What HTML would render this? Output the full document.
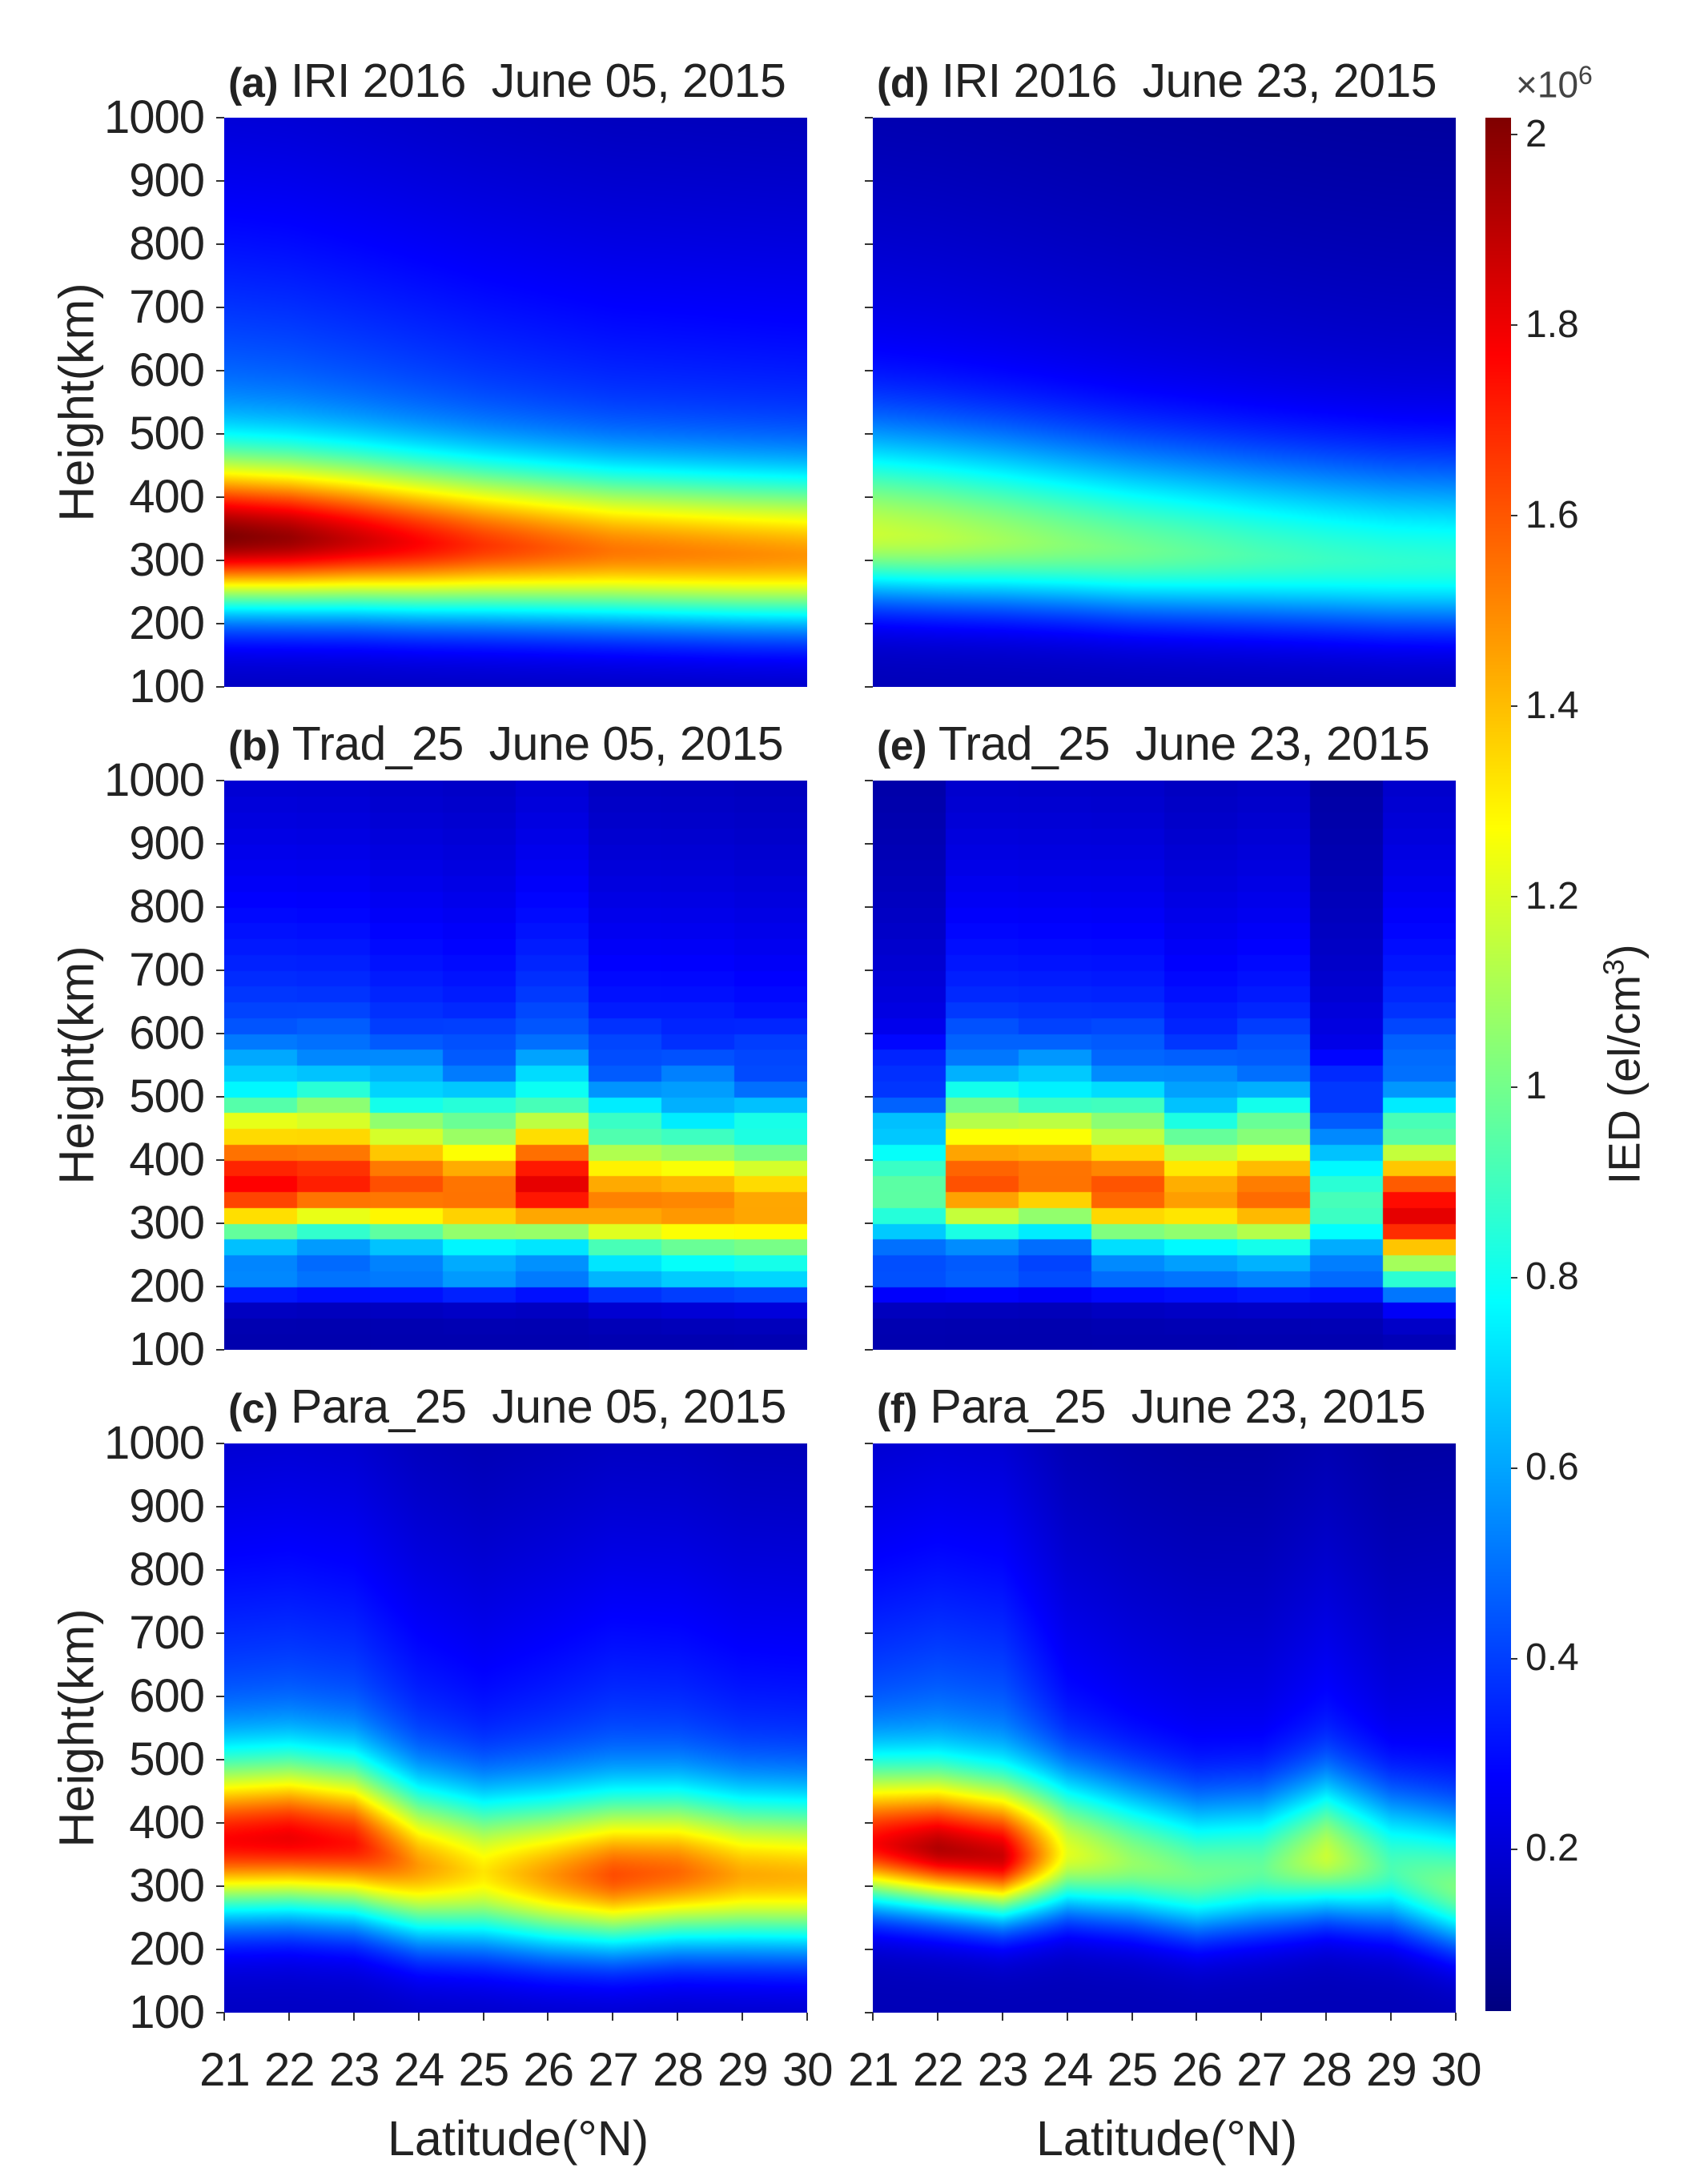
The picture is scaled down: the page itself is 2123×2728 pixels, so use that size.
<!DOCTYPE html>
<html><head><meta charset="utf-8">
<style>
body{margin:0;background:#fff;width:2123px;height:2728px;position:relative;overflow:hidden;font-family:"Liberation Sans",Arial,sans-serif;color:#222}
canvas{position:absolute}
.t{position:absolute;font-size:52px;white-space:nowrap;line-height:1}
.ycol{position:absolute;left:105px;width:150px;text-align:right;font-size:58px;line-height:58px;letter-spacing:-1px}
.ycol div{height:79px}
.xrow{position:absolute;top:2557px;display:flex;font-size:58px;line-height:1;letter-spacing:-1px}
.xrow div{width:80.89px;text-align:center}
.ccol{position:absolute;left:1905px;top:143px;font-size:48px;line-height:50px}
.ccol div{height:237.9px}
.tk{position:absolute;background:#333}
.rot{position:absolute;font-size:61px;transform:rotate(-90deg);transform-origin:center;white-space:nowrap;line-height:1;text-align:center}
.ti{position:absolute;font-size:59px;white-space:nowrap;line-height:1;letter-spacing:-0.5px}
.ti b{font-size:52px}
</style></head><body>

<div class="ti" style="left:285px;top:72px"><b>(a)</b> IRI 2016&nbsp; June 05, 2015</div>
<div class="ti" style="left:1095px;top:72px"><b>(d)</b> IRI 2016&nbsp; June 23, 2015</div>
<div class="ti" style="left:285px;top:900px"><b>(b)</b> Trad_25&nbsp; June 05, 2015</div>
<div class="ti" style="left:1095px;top:900px"><b>(e)</b> Trad_25&nbsp; June 23, 2015</div>
<div class="ti" style="left:285px;top:1728px"><b>(c)</b> Para_25&nbsp; June 05, 2015</div>
<div class="ti" style="left:1095px;top:1728px"><b>(f)</b> Para_25&nbsp; June 23, 2015</div>

<div class="ycol" style="top:118px"><div>1000</div><div>900</div><div>800</div><div>700</div><div>600</div><div>500</div><div>400</div><div>300</div><div>200</div><div>100</div></div>
<div class="ycol" style="top:946px"><div>1000</div><div>900</div><div>800</div><div>700</div><div>600</div><div>500</div><div>400</div><div>300</div><div>200</div><div>100</div></div>
<div class="ycol" style="top:1774px"><div>1000</div><div>900</div><div>800</div><div>700</div><div>600</div><div>500</div><div>400</div><div>300</div><div>200</div><div>100</div></div>

<div class="xrow" style="left:240px"><div>21</div><div>22</div><div>23</div><div>24</div><div>25</div><div>26</div><div>27</div><div>28</div><div>29</div><div>30</div></div>
<div class="xrow" style="left:1050px"><div>21</div><div>22</div><div>23</div><div>24</div><div>25</div><div>26</div><div>27</div><div>28</div><div>29</div><div>30</div></div>
<div class="t" style="left:484px;top:2641px;font-size:61px">Latitude(°N)</div>
<div class="t" style="left:1294px;top:2641px;font-size:61px">Latitude(°N)</div>

<div class="rot" style="left:-54px;top:472px;width:300px">Height(km)</div>
<div class="rot" style="left:-54px;top:1300px;width:300px">Height(km)</div>
<div class="rot" style="left:-54px;top:2128px;width:300px">Height(km)</div>
<div class="rot" style="left:1827px;top:1300px;width:400px;font-size:56px">IED (el/cm<sup style="font-size:36px">3</sup>)</div>

<div class="ccol"><div>2</div><div>1.8</div><div>1.6</div><div>1.4</div><div>1.2</div><div>1</div><div>0.8</div><div>0.6</div><div>0.4</div><div>0.2</div></div>
<div class="t" style="left:1893px;top:78px;font-size:46px;color:#444">×10<sup style="font-size:32px">6</sup></div>

<script>
const root=document.body;
const PX=[280,1090], PW=728, PY=[147,975,1803], PH=711;
function sq(x){return x*x;}
function jet(v){let t=(v-0.03)/(2.018-0.03);t=Math.max(0,Math.min(1,t));
 const c=x=>Math.round(255*Math.max(0,Math.min(1,x)));
 return [c(1.5-Math.abs(4*t-3)),c(1.5-Math.abs(4*t-2)),c(1.5-Math.abs(4*t-1))];}
function interp(arr,x){const p=(x-21)/9*(arr.length-1);const i=Math.max(0,Math.min(arr.length-2,Math.floor(p)));const f=p-i;return arr[i]*(1-f)+arr[i+1]*f;}
function prof(h,pk,hm,wl,wu,base){const d=h-hm;
 if(d>=0) return pk*(0.6*Math.exp(-sq(d/wu))+0.4*Math.exp(-d/450))+0.02;
 return base+(pk+0.02-base)*Math.exp(-sq(d/wl));}
function add(cls,st){const d=document.createElement('div');d.className=cls;Object.assign(d.style,st);root.appendChild(d);}
const panels=[
 {c:0,r:0,f:(x,h)=>prof(h,interp([2.0,1.95,1.85,1.75,1.65,1.58,1.52,1.5,1.48,1.46],x),interp([340,338,335,330,326,322,318,315,312,310],x),110,120,0.15)},
 {c:1,r:0,f:(x,h)=>prof(h,interp([1.15,1.12,1.07,1.02,0.98,0.94,0.9,0.87,0.85,0.84],x),interp([345,340,335,328,320,315,310,305,300,298],x),105,150,0.14)},
 {c:0,r:1,block:true,pk:[1.75,1.7,1.6,1.55,1.8,1.5,1.5,1.45],hm:[365,370,360,350,360,335,330,325],f2:[0.85,0.8,0.75,0.8,0.7,0.7,0.72,0.7]},
 {c:1,r:1,block:true,pk:[0.95,1.6,1.55,1.6,1.45,1.55,0.9,1.8],hm:[350,370,375,355,345,345,330,315],f2:[0.6,0.7,0.65,0.6,0.55,0.6,0.55,0.6]},
 {c:0,r:2,f:(x,h)=>prof(h,interp([1.75,1.78,1.72,1.45,1.3,1.45,1.6,1.55,1.42,1.4],x),interp([375,378,370,335,325,320,320,325,320,318],x),115,120,0.16)},
 {c:1,r:2,f:(x,h)=>prof(h,interp([1.75,1.9,1.85,1.2,1.05,0.98,0.95,1.15,0.9,1.0],x),interp([370,362,350,355,340,320,330,350,330,300],x),95,115,0.14)}
];
panels.forEach(p=>{
 const cv=document.createElement('canvas');cv.width=PW;cv.height=PH;
 cv.style.left=PX[p.c]+'px';cv.style.top=PY[p.r]+'px';root.appendChild(cv);
 const ctx=cv.getContext('2d');const im=ctx.createImageData(PW,PH);
 for(let j=0;j<PH;j++){const h=1000-j/PH*900;
  for(let i=0;i<PW;i++){const x=21+i/PW*9;let v;
   if(p.block){const ci=Math.min(7,Math.floor(i/PW*8));const hq=Math.floor(h/25)*25+12.5;
    v=prof(hq,p.pk[ci],p.hm[ci],95,120,0.12)+0.35*Math.exp(-sq((hq-212)/30))*p.f2[ci];
    if(hq>450&&hq<650) v+=0.15*sq(Math.sin(ci*1.7+hq/40))*(1-(hq-450)/200);}
   else v=p.f(x,h);
   const c=jet(v);const k=(j*PW+i)*4;im.data[k]=c[0];im.data[k+1]=c[1];im.data[k+2]=c[2];im.data[k+3]=255;}}
 ctx.putImageData(im,0,0);
 for(let hv=100;hv<=1000;hv+=100){const y=PY[p.r]+(1000-hv)/900*PH;
  add('tk',{left:PX[p.c]-10+'px',top:y-1+'px',width:'10px',height:'2px'});}
});
const cb=document.createElement('canvas');cb.width=32;cb.height=2365;cb.style.left='1855px';cb.style.top='147px';root.appendChild(cb);
{const ctx=cb.getContext('2d');for(let j=0;j<2365;j++){const v=2.018-j/2365*1.988;const c=jet(v);ctx.fillStyle='rgb('+c[0]+','+c[1]+','+c[2]+')';ctx.fillRect(0,j,32,1);}}
[0.2,0.4,0.6,0.8,1,1.2,1.4,1.6,1.8,2].forEach(v=>{const y=147+(2.018-v)/1.988*2365;
 add('tk',{left:'1887px',top:y-1+'px',width:'8px',height:'2px'});});
[0,1].forEach(c=>{for(let l=21;l<=30;l++){const x=PX[c]+(l-21)/9*PW;
 add('tk',{left:x-1+'px',top:PY[2]+PH+'px',width:'2px',height:'10px'});}});
</script>
</body></html>
